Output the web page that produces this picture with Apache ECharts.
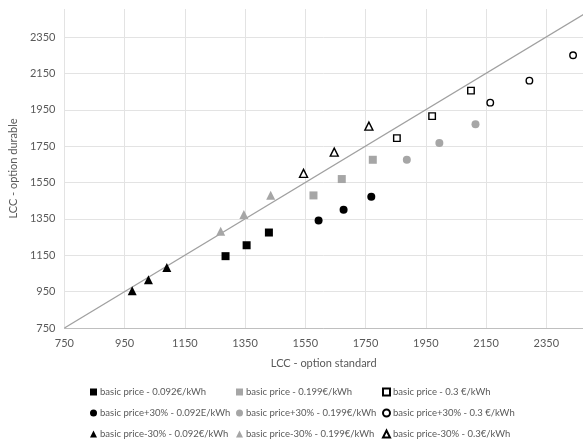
<!DOCTYPE html>
<html><head><meta charset="utf-8">
<script src="https://cdn.jsdelivr.net/npm/echarts@6/dist/echarts.min.js"></script>
<style>html,body{margin:0;padding:0;background:#fff}#c{width:583px;height:442px}</style>
</head><body><div id="c"></div>
<script>
// Series names
const names = [
  'basic price - 0.092€/kWh', 'basic price - 0.199€/kWh', 'basic price - 0.3 €/kWh',
  'basic price+30% - 0.092E/kWh', 'basic price+30% - 0.199€/kWh', 'basic price+30% - 0.3 €/kWh',
  'basic price-30% - 0.092€/kWh', 'basic price-30% - 0.199€/kWh', 'basic price-30% - 0.3€/kWh'
];
// [LCC standard, LCC durable]
const base092 = [[1285,1145],[1355,1205],[1429,1275]];
const base199 = [[1577,1479],[1671,1569],[1774,1675]];
const base03  = [[1854,1794],[1971,1915],[2100,2055]];
const plus092 = [[1594,1341],[1677,1400],[1769,1471]];
const plus199 = [[1887,1675],[1995,1767],[2115,1870]];
const plus03  = [[2164,1989],[2294,2110],[2439,2250]];
const minus092 = [[975,955],[1029,1015],[1090,1082]];
const minus199 = [[1269,1282],[1346,1374],[1435,1480]];
const minus03  = [[1544,1600],[1646,1717],[1761,1860]];
const diagonal = [[750,750],[2600,2600]];

const seriesData = [base092, base199, base03, plus092, plus199, plus03, minus092, minus199, minus03];
const symbols = ['rect','rect','rect','circle','circle','circle','triangle','triangle','triangle'];
const kinds = ['black','gray','hollow','black','gray','hollow','black','gray','hollow'];

const font = 'Lato, "Liberation Sans", sans-serif';
const txt = '#595959';

function styleFor(k){
  if(k==='black') return {color:'#000', opacity:1};
  if(k==='gray') return {color:'#a6a6a6', opacity:1};
  return {color:'#fff', borderColor:'#000', borderWidth:1.4, opacity:1};
}
function sizeFor(s,k){
  if(k==='hollow') return s==='triangle'?8:6.5;
  return s==='triangle'?9:8;
}

const series = seriesData.map((d,i)=>({
  name: names[i], type:'scatter', data:d, symbol:symbols[i],
  symbolSize: sizeFor(symbols[i], kinds[i]),
  itemStyle: styleFor(kinds[i])
}));
series.unshift({
  type:'line', data:diagonal, symbol:'none', silent:true,
  lineStyle:{color:'#a0a0a0', width:1.3}, clip:true, z:1
});

const colX = [90, 236, 382];
const rowY = [387, 408, 429];
const legends = names.map((n,i)=>({
  data:[n], left: colX[i%3], top: rowY[Math.floor(i/3)], padding:0,
  itemWidth:7, itemHeight:7, itemGap:0,
  textStyle:{fontFamily:font, fontSize:9.5, color:txt, padding:[0,0,0,-2]}
}));

const fmt = v => String(v);

const chart = echarts.init(document.getElementById('c'), null, {renderer:'canvas'});
chart.setOption({
  animation:false,
  backgroundColor:'#fff',
  grid:{left:62, right:0, top:9, bottom:114},
  legend: legends,
  xAxis:{
    type:'value', min:750, max:2472, interval:200,
    name:'LCC - option standard', nameLocation:'middle', nameGap:30,
    nameTextStyle:{fontFamily:font, fontSize:11, color:txt},
    axisLine:{show:true, lineStyle:{color:'#bfbfbf'}},
    axisTick:{show:false},
    axisLabel:{fontFamily:font, fontSize:11, color:txt, margin:10, showMaxLabel:false, formatter:fmt},
    splitLine:{show:true, showMaxLine:false, lineStyle:{color:'#e3e3e3'}}
  },
  yAxis:{
    type:'value', min:750, max:2504, interval:200,
    name:'LCC - option durable', nameLocation:'middle', nameGap:43,
    nameTextStyle:{fontFamily:font, fontSize:11, color:txt},
    axisLine:{show:false},
    axisTick:{show:false},
    axisLabel:{fontFamily:font, fontSize:11, color:txt, margin:9, showMaxLabel:false, formatter:fmt},
    splitLine:{show:true, showMaxLine:false, lineStyle:{color:'#e3e3e3'}}
  },
  series: series
});
</script></body></html>
